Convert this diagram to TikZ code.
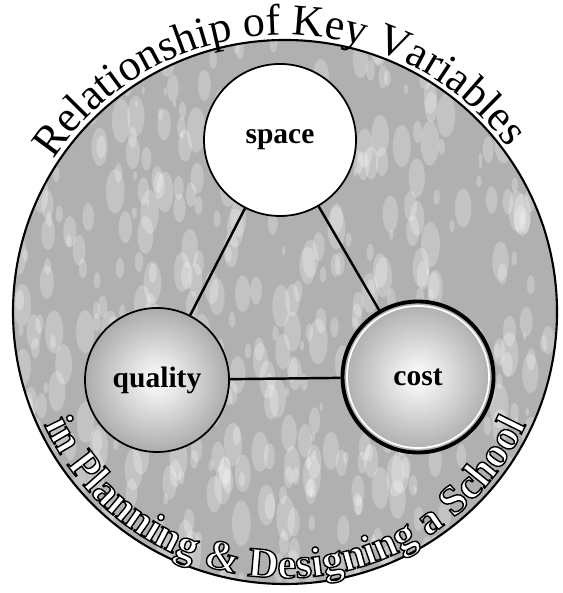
\documentclass[tikz,border=0pt]{standalone}
\usepackage{fontspec}
\setmainfont{Liberation Serif}
\usetikzlibrary{decorations.text}

% lettres creuses (remplies de blanc, contour noir)
\newcommand\creux{\color{white}\special{pdf:literal direct 2 Tr 0.4 w 0 G}}

\begin{document}
\begin{tikzpicture}[
		bulle/.style={circle, draw=black, line width=0.5pt, inner sep=0pt,
			font=\fontsize{8.4}{10}\selectfont\bfseries},
		lien/.style={line width=0.7pt}]
		\useasboundingbox (-2.85,-2.81) rectangle (2.77,3.12);

		% Fond tacheté du grand disque
		\begin{scope}
			\clip (0,0) circle (2.72);
			\fill[gray!62] (0,0) circle (2.72);
			\pgfmathsetseed{11}
			\foreach \i in {1,...,500}{
				\pgfmathsetmacro\bx{5.4*rnd-2.7}
				\pgfmathsetmacro\by{5.4*rnd-2.7}
				\pgfmathsetmacro\br{0.015+0.08*rnd}
				\fill[white, opacity=0.25] (\bx,\by) ellipse ({\br} and {2.4*\br});
			}
		\end{scope}
		\draw[line width=0.6pt] (0,0) circle (2.72);

		% Les trois variables
		\node[bulle, fill=white, minimum size=1.52cm] (space) at (-0.05,1.72) {space};
		\node[bulle, inner color=white, outer color=gray!65, minimum size=1.44cm] (quality) at (-1.28,-0.68) {quality};
		\node[bulle, inner color=white, outer color=gray!65, line width=1.1pt, minimum size=1.51cm] (cost) at (1.33,-0.65) {cost};
		\draw[white, line width=0.5pt] (cost.center) circle (0.71);

		% Liens entre les variables
		\draw[lien] (space) -- (quality);
		\draw[lien] (space) -- (cost);
		\draw[lien] (quality) -- (cost);

		% Titre en arc (haut)
		\path[decorate, decoration={text along path, text align=center,
			text={|\fontsize{12.5}{14}\selectfont|Relationship of Key Variables}}]
			(147:2.77) arc[start angle=147, end angle=36, radius=2.77];

		% Titre en arc (bas), lettres creuses
		\path[decorate, decoration={text along path, text align={fit to path},
			text={|\fontsize{12}{13}\selectfont\bfseries\creux|in Planning {\&} Designing a School}}]
			(205:2.66) arc[start angle=205, end angle=335, radius=2.66];
	\end{tikzpicture}
\end{document}
